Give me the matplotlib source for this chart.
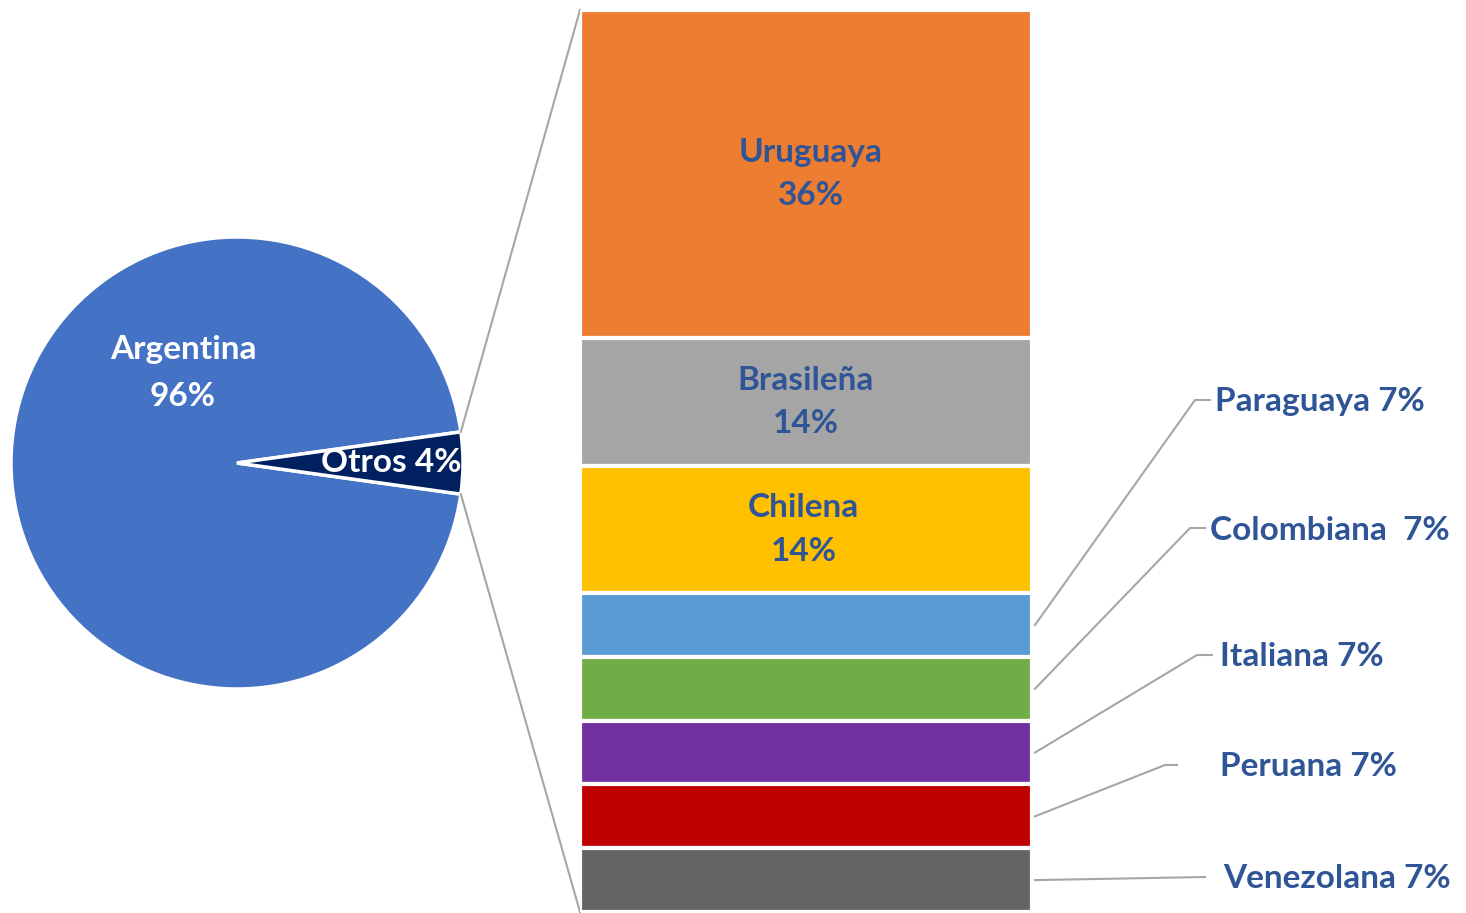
import matplotlib.pyplot as plt
import numpy as np

plt.rcParams['font.family'] = ['Lato', 'DejaVu Sans']

pie_labels = ['Argentina', 'Otros']
pie_values = [95.6, 4.4]
pie_colors = ['#4472C4', '#002060']

bar_labels = ['Uruguaya', 'Brasileña', 'Chilena', 'Paraguaya', 'Colombiana',
              'Italiana', 'Peruana', 'Venezolana']
bar_values = [36, 14, 14, 7, 7, 7, 7, 7]
bar_colors = ['#ED7D31', '#A5A5A5', '#FFC000', '#5B9BD5', '#70AD47',
              '#7030A0', '#C00000', '#646464']
label_color = '#2F5597'
fs = 24

W, H = 1466, 913
fig = plt.figure(figsize=(W / 100, H / 100), dpi=100)

# overlay axes in pixel coordinates
ax = fig.add_axes([0, 0, 1, 1])

cx, cy, r = 237, 463, 226
half = pie_values[1] / 100 * 360 / 2
ax.pie(pie_values, colors=pie_colors, startangle=-half, center=(cx, cy),
       radius=r, counterclock=False,
       wedgeprops=dict(edgecolor='white', linewidth=2.5), frame=True)
ax.set_xlim(0, W)
ax.set_ylim(H, 0)
ax.set_aspect('auto')
ax.axis('off')

ax.text(183, 350, 'Argentina', color='white', fontsize=fs, fontweight='bold',
        ha='center', va='center')
ax.text(183, 396, '96%', color='white', fontsize=fs, fontweight='bold',
        ha='center', va='center')
ax.text(391, 463, 'Otros 4%', color='white', fontsize=fs, fontweight='bold',
        ha='center', va='center')

# stacked bar
bx0, bx1, by0, by1 = 580, 1032, 10, 912
bax = fig.add_axes([bx0 / W, 1 - by1 / H, (bx1 - bx0) / W, (by1 - by0) / H])
total = sum(bar_values)
bottom = 0
mids = []
for lab, v, c in zip(bar_labels, bar_values, bar_colors):
    bax.bar(0, v, bottom=bottom, width=1, color=c, edgecolor='white', linewidth=3)
    mids.append(bottom + v / 2)
    bottom += v
bax.set_xlim(-0.5, 0.5)
bax.set_ylim(total, 0)
bax.axis('off')

offs = [0.01, 0.0, -0.005]
for i in range(3):
    bax.text(offs[i], mids[i], f'{bar_labels[i]}\n{bar_values[i]}%', color=label_color,
             fontsize=fs, fontweight='bold', ha='center', va='center',
             linespacing=1.6)

# connector lines from pie to bar
a = np.deg2rad(half)
ex = cx + r * np.cos(a)
ax.plot([ex, bx0], [cy - r * np.sin(a), by0], color='#A6A6A6', lw=1.5)
ax.plot([ex, bx0], [cy + r * np.sin(a), by1], color='#A6A6A6', lw=1.5)

# leader lines for small segments
elbows = [(1195, 1210, 400), (1190, 1205, 528), (1197, 1212, 655),
          (1165, 1177, 765), (1205, 1205, 877)]
text_pos = [(1215, 402, 'Paraguaya 7%'), (1210, 530, 'Colombiana  7%'),
            (1220, 657, 'Italiana 7%'), (1220, 767, 'Peruana 7%'),
            (1223, 878, 'Venezolana 7%')]
for k in range(5):
    i = k + 3
    ys = by0 + mids[i] / total * (by1 - by0)
    e1, e2, ey = elbows[k]
    ax.plot([1035, e1, e2], [ys, ey, ey], color='#A6A6A6', lw=1.5)
    tx, ty, t = text_pos[k]
    ax.text(tx, ty, t, color=label_color, fontsize=fs, fontweight='bold',
            ha='left', va='center')

fig.savefig('out.png', dpi=100)
